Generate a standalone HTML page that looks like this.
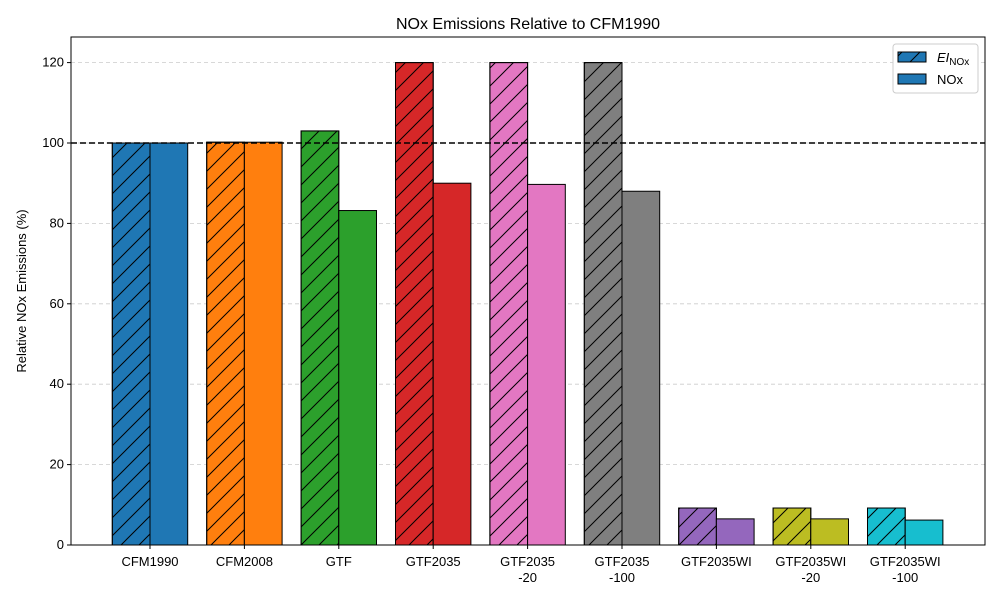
<!DOCTYPE html>
<html><head><meta charset="utf-8"><style>
body{margin:0;background:#fff;font-family:"Liberation Sans","DejaVu Sans",sans-serif}
</style></head><body>
<svg id="c" width="1000" height="600" xmlns="http://www.w3.org/2000/svg">
<defs>
<pattern id="h" patternUnits="userSpaceOnUse" width="18" height="18">
<path d="M-4.5,4.5 L4.5,-4.5 M0,18 L18,0 M13.5,22.5 L22.5,13.5" stroke="#000" stroke-width="1"/>
</pattern>
</defs>
</svg>
<script>
const categories=["CFM1990","CFM2008","GTF","GTF2035","GTF2035\n-20","GTF2035\n-100","GTF2035WI","GTF2035WI\n-20","GTF2035WI\n-100"];
const eiValues=[100,100.2,103,120,120,120,9.2,9.2,9.2];
const noxValues=[100,100.2,83.2,90,89.7,88,6.5,6.5,6.2];
const colors=["#1f77b4","#ff7f0e","#2ca02c","#d62728","#e377c2","#7f7f7f","#9467bd","#bcbd22","#17becf"];
const yTicks=[0,20,40,60,80,100,120];
const svg=document.getElementById('c');const NS="http://www.w3.org/2000/svg";
const L=71,R=985,T=37,B=545;
const y=v=>B-(v/100)*(B-143);
const xc=i=>150+i*94.4;const bw=37.7;
function mk(t,a,p){const e=document.createElementNS(NS,t);for(const k in a)e.setAttribute(k,a[k]);(p||svg).appendChild(e);return e;}
yTicks.forEach(t=>{
 const g=mk('line',{x1:L,x2:R,y1:y(t),y2:y(t),stroke:'#ccc','stroke-dasharray':'4,3','stroke-width':0.8});
 
 
 mk('line',{x1:L-4,x2:L,y1:y(t),y2:y(t),stroke:'#000'});
 const tx=mk('text',{x:L-7,y:y(t)+4,'text-anchor':'end','font-size':13});tx.textContent=t;
 
 
});
categories.forEach((c,i)=>{
 const x=xc(i);
 [[eiValues[i],x-bw,true],[noxValues[i],x,false]].forEach(([v,x0,hat])=>{
  const r=mk('rect',{x:x0,y:y(v),width:bw,height:B-y(v),fill:colors[i],stroke:'#000','stroke-width':1});
  
  
  if(hat){mk('rect',{x:x0,y:y(v),width:bw,height:B-y(v),fill:'url(#h)',stroke:'#000','stroke-width':1});}
 });
 mk('line',{x1:x,x2:x,y1:B,y2:B+4,stroke:'#000'});
 c.split('\n').forEach((s,j)=>{const t=mk('text',{x:x,y:B+21+j*16,'text-anchor':'middle','font-size':13});t.textContent=s;
 
 });
});
const ref=mk('line',{x1:L,x2:R,y1:y(100),y2:y(100),stroke:'#000','stroke-width':1.5,'stroke-dasharray':'6,3'});


const ax=mk('rect',{x:L,y:T,width:R-L,height:B-T,fill:'none',stroke:'#000','stroke-width':1});


const ti=mk('text',{x:(L+R)/2,y:29,'text-anchor':'middle','font-size':16});ti.textContent='NOx Emissions Relative to CFM1990';


const yl=mk('text',{x:0,y:0,'text-anchor':'middle','font-size':13,transform:`translate(26,${(T+B)/2}) rotate(-90)`});yl.textContent='Relative NOx Emissions (%)';


const lg=mk('g',{});


mk('rect',{x:893,y:44,width:85,height:49,fill:'#fff',stroke:'#ccc',rx:3},lg);
mk('rect',{x:898,y:52,width:28,height:10,fill:'#1f77b4',stroke:'#000'},lg);
mk('rect',{x:898,y:52,width:28,height:10,fill:'url(#h)',stroke:'#000'},lg);
mk('rect',{x:898,y:74,width:28,height:10,fill:'#1f77b4',stroke:'#000'},lg);
const l1=mk('text',{x:937,y:62,'font-size':13},lg);l1.innerHTML='<tspan font-style="italic">EI</tspan><tspan font-size="10" dy="3">NOx</tspan>';


const l2=mk('text',{x:937,y:84,'font-size':13},lg);l2.textContent='NOx';


</script>
</body></html>
